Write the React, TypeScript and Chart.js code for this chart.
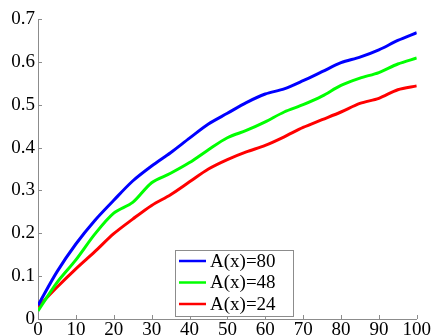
import React, { useEffect, useRef } from "react";
import { Chart, registerables } from "chart.js";

Chart.register(...registerables);

const xValues = [0, 5, 10, 15, 20, 25, 30, 35, 40, 45, 50, 55, 60, 65, 70, 75, 80, 85, 90, 95, 100];
const blueValues = [0.032, 0.11, 0.175, 0.23, 0.277, 0.322, 0.357, 0.388, 0.422, 0.455, 0.48, 0.505, 0.525, 0.537, 0.556, 0.577, 0.598, 0.611, 0.628, 0.65, 0.668];
const greenValues = [0.019, 0.085, 0.138, 0.198, 0.247, 0.272, 0.318, 0.34, 0.365, 0.395, 0.423, 0.44, 0.46, 0.483, 0.5, 0.52, 0.545, 0.562, 0.575, 0.595, 0.609];
const redValues = [0.028, 0.074, 0.117, 0.157, 0.199, 0.233, 0.265, 0.29, 0.32, 0.35, 0.372, 0.39, 0.405, 0.425, 0.447, 0.465, 0.483, 0.503, 0.515, 0.535, 0.544];
const seriesLabels = ["A(x)=80", "A(x)=48", "A(x)=24"];
const seriesColors = ["#0000ff", "#00ff00", "#ff0000"];

const FONT = "'Liberation Serif', 'Times New Roman', serif";

const inwardTicks = {
  id: "inwardTicks",
  afterDraw(chart: any) {
    const ctx = chart.ctx;
    const { left, bottom } = chart.chartArea;
    ctx.save();
    ctx.strokeStyle = "#8c8c8c";
    ctx.lineWidth = 1;
    const xs = chart.scales.x;
    xs.ticks.forEach((t: any) => {
      const px = Math.round(xs.getPixelForValue(t.value)) + 0.5;
      ctx.beginPath();
      ctx.moveTo(px, bottom);
      ctx.lineTo(px, bottom - 4);
      ctx.stroke();
    });
    const ys = chart.scales.y;
    ys.ticks.forEach((t: any) => {
      const py = Math.round(ys.getPixelForValue(t.value)) + 0.5;
      ctx.beginPath();
      ctx.moveTo(left, py);
      ctx.lineTo(left + 4, py);
      ctx.stroke();
    });
    ctx.restore();
  },
};

const boxLegend = {
  id: "boxLegend",
  afterDraw(chart: any) {
    const ctx = chart.ctx;
    const x0 = 175;
    const y0 = 250;
    const w = 118;
    const h = 66;
    ctx.save();
    ctx.fillStyle = "#ffffff";
    ctx.fillRect(x0, y0, w, h);
    ctx.strokeStyle = "#8c8c8c";
    ctx.lineWidth = 1;
    ctx.strokeRect(x0 + 0.5, y0 + 0.5, w, h);
    ctx.font = `19px ${FONT}`;
    ctx.textBaseline = "middle";
    chart.data.datasets.forEach((ds: any, i: number) => {
      const cy = y0 + 11 + i * 21.5;
      ctx.strokeStyle = ds.borderColor;
      ctx.lineWidth = 2.5;
      ctx.beginPath();
      ctx.moveTo(x0 + 4, cy);
      ctx.lineTo(x0 + 31, cy);
      ctx.stroke();
      ctx.fillStyle = "#000";
      ctx.fillText(ds.label, x0 + 35, cy + 1);
    });
    ctx.restore();
  },
};

export default function App() {
  const ref = useRef<HTMLCanvasElement>(null);
  useEffect(() => {
    document.body.style.margin = "0";
    const series = [blueValues, greenValues, redValues];
    const chart = new Chart(ref.current!, {
      type: "line",
      data: {
        datasets: series.map((vals, i) => ({
          label: seriesLabels[i],
          data: vals.map((v, j) => ({ x: xValues[j], y: v })),
          borderColor: seriesColors[i],
          backgroundColor: seriesColors[i],
          borderWidth: 3,
          pointRadius: 0,
          tension: 0.3,
          fill: false,
        })),
      },
      options: {
        animation: false,
        responsive: false,
        maintainAspectRatio: false,
        layout: { padding: { left: 0, right: 14, top: 19, bottom: 0 } },
        plugins: { legend: { display: false }, tooltip: { enabled: false } },
        scales: {
          x: {
            type: "linear",
            min: 0,
            max: 100,
            ticks: { stepSize: 10, color: "#000", font: { family: FONT, size: 19 }, padding: 0, maxRotation: 0 },
            grid: { display: false, drawTicks: false },
            border: { display: true, color: "#8c8c8c", width: 1 },
            afterFit: (s: any) => { s.height = 17; },
          },
          y: {
            min: 0,
            max: 0.7,
            ticks: {
              stepSize: 0.1,
              color: "#000",
              font: { family: FONT, size: 19 },
              padding: 3,
              callback: (v: any) => (Math.round(Number(v) * 10) / 10).toString(),
            },
            grid: { display: false, drawTicks: false },
            border: { display: true, color: "#8c8c8c", width: 1 },
            afterFit: (s: any) => { s.width = 38; },
          },
        },
      },
      plugins: [inwardTicks, boxLegend],
    });
    return () => chart.destroy();
  }, []);
  return (
    <div style={{ width: 431, height: 336, background: "#fff" }}>
      <canvas ref={ref} width={431} height={336} />
    </div>
  );
}
